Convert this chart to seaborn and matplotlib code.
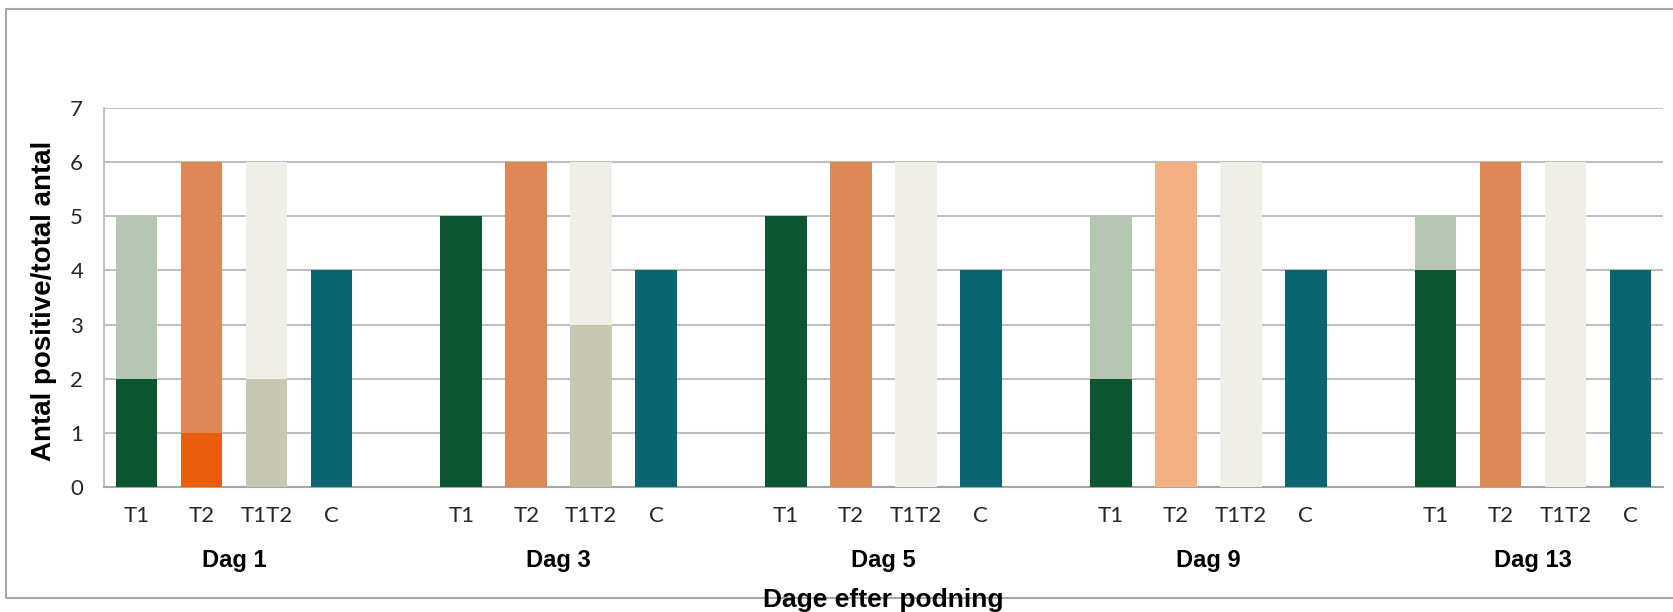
import numpy as np
import pandas as pd
import matplotlib
matplotlib.use("Agg")
import matplotlib.pyplot as plt
from matplotlib.patches import Rectangle
import matplotlib.transforms as mtransforms
import seaborn as sns

# data
days = ["Dag 1", "Dag 3", "Dag 5", "Dag 9", "Dag 13"]
treatments = ["T1", "T2", "T1T2", "C"]
total_T1 = [5, 5, 5, 5, 5]
total_T2 = [6, 6, 6, 6, 6]
total_T1T2 = [6, 6, 6, 6, 6]
total_C = [4, 4, 4, 4, 4]
positive_T1 = [2, 5, 5, 2, 4]
positive_T2 = [1, 0, 0, 0, 0]
positive_T1T2 = [2, 3, 0, 0, 0]
positive_C = [4, 4, 4, 4, 4]

# colours
colTotal = {"T1": "#B5C7B0", "T2": "#DE8855", "T1T2": "#EFEFE8", "C": "#08646F"}
colPositive = {"T1": "#0B5630", "T2": "#E95D0F", "T1T2": "#C8C8B2", "C": "#08646F"}
specialTotal = {("Dag 9", "T2"): "#F3B084"}


def getDataset():
    totals = {"T1": total_T1, "T2": total_T2, "T1T2": total_T1T2, "C": total_C}
    positives = {"T1": positive_T1, "T2": positive_T2, "T1T2": positive_T1T2, "C": positive_C}
    rows = []
    slots = []
    for i, d in enumerate(days):
        for t in treatments:
            slot = d + "_" + t
            slots.append(slot)
            rows.append({"slot": slot, "day": d, "treatment": t,
                         "total": totals[t][i], "positive": positives[t][i]})
        if i < len(days) - 1:
            slots.append("gap_" + d)
    return pd.DataFrame(rows), slots


df, slots = getDataset()

fig = plt.figure(figsize=(16.73, 6.12), dpi=100)
ax = fig.add_axes([104 / 1673, 1 - 487 / 612, 1559 / 1673, 379 / 612])

paletteTotal = {r.slot: specialTotal.get((r.day, r.treatment), colTotal[r.treatment]) for r in df.itertuples()}
palettePositive = {r.slot: colPositive[r.treatment] for r in df.itertuples()}

sns.barplot(data=df, x="slot", y="total", hue="slot", order=slots, hue_order=list(df["slot"]),
            palette=paletteTotal, width=0.64, legend=False, ax=ax, saturation=1, zorder=3)
sns.barplot(data=df[df["positive"] > 0], x="slot", y="positive", hue="slot", order=slots,
            hue_order=list(df["slot"]), palette=palettePositive, width=0.64, legend=False, ax=ax,
            saturation=1, zorder=4)

ax.set_xlim(-0.5, len(slots) - 0.5)
ax.set_ylim(0, 7)
ax.set_yticks(range(8))
ax.grid(axis="y", color="#BFBFBF", linewidth=1.5, zorder=0)
ax.set_axisbelow(True)
for s in ["top", "right"]:
    ax.spines[s].set_visible(False)
ax.spines["left"].set_color("#BFBFBF")
ax.spines["bottom"].set_color("#A6A6A6")
ax.spines["left"].set_linewidth(1.5)
ax.spines["bottom"].set_linewidth(1.5)

pos = [slots.index(s) for s in df["slot"]]
ax.set_xticks(pos)
ax.set_xticklabels(df["treatment"], fontfamily="Lato", fontsize=16, color="#262626")
ax.tick_params(axis="x", length=0, pad=14)
ax.tick_params(axis="y", length=0, pad=15, labelsize=16, labelcolor="#262626")
for lab in ax.get_yticklabels():
    lab.set_fontfamily("Lato")

ax.set_xlabel("")
ax.set_ylabel("Antal positive/total antal", fontfamily="Liberation Sans", fontweight="bold", fontsize=20)
ax.yaxis.set_label_coords(-0.030, 0.49)

trans = mtransforms.blended_transform_factory(ax.transData, ax.transAxes)
for d in days:
    p = [slots.index(s) for s in df.loc[df["day"] == d, "slot"]]
    ax.text(np.mean(p), -0.193, d, transform=trans, ha="center", va="center",
            fontfamily="Liberation Sans", fontweight="bold", fontsize=17)

fig.text(883 / 1673, 1 - 600 / 612, "Dage efter podning", ha="center", va="center",
         fontfamily="Liberation Sans", fontweight="bold", fontsize=19, zorder=5)

fig.patches.append(Rectangle((6 / 1673, 1 - 598 / 612), 1.0, 589 / 612, transform=fig.transFigure,
                             fill=False, edgecolor="#A6A6A6", linewidth=1.5, zorder=0))

fig.savefig("out.png", dpi=100)
